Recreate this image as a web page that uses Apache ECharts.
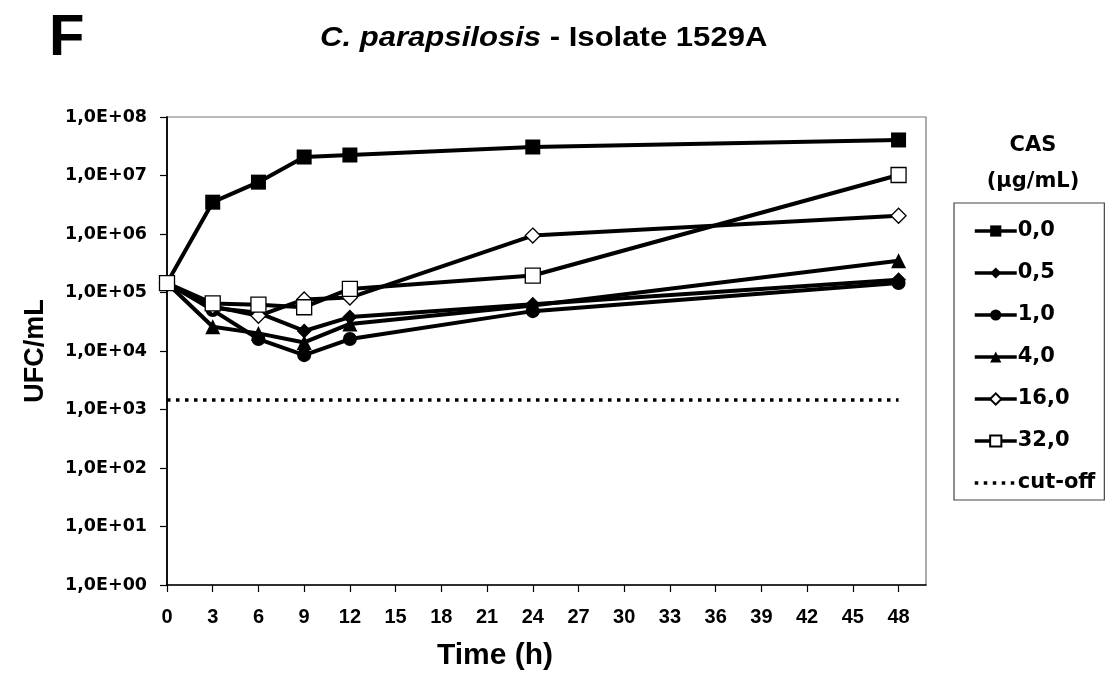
<!DOCTYPE html>
<html>
<head>
<meta charset="utf-8">
<script src="https://cdn.jsdelivr.net/npm/echarts@6/dist/echarts.min.js"></script>
<style>
  html, body { margin: 0; padding: 0; background: #fff; }
  #main { width: 1116px; height: 679px; }
</style>
</head>
<body>
<div id="main"></div>
<script>
// 时间点 (h)
var times = [0, 3, 6, 9, 12, 24, 48];

// UFC/mL 各浓度
var cas00 = [1.45e5, 3.5e6, 7.7e6, 2.07e7, 2.24e7, 3.07e7, 4.05e7];
var cas05 = [1.45e5, 5.5e4, 4.5e4, 2.2e4, 3.8e4, 6.3e4, 1.65e5];
var cas10 = [1.45e5, 5.0e4, 1.6e4, 8.5e3, 1.6e4, 4.8e4, 1.45e5];
var cas40 = [1.45e5, 2.6e4, 2.0e4, 1.4e4, 2.9e4, 6.0e4, 3.5e5];
var cas160 = [1.45e5, 5.8e4, 4.0e4, 7.6e4, 8.2e4, 9.4e5, 2.05e6];
var cas320 = [1.45e5, 6.5e4, 6.2e4, 5.6e4, 1.15e5, 1.95e5, 1.02e7];

// cut-off
var cutTimes = [0, 48];
var cutValue = 1.45e3;

var legendNames = ['0,0', '0,5', '1,0', '4,0', '16,0', '32,0', 'cut-off'];

function pairs(xs, ys) {
    return xs.map(function (x, i) { return [x, ys[i]]; });
}

function mkSeries(name, values, symbol, size, open) {
    return {
        name: name,
        type: 'line',
        data: pairs(times, values),
        symbol: symbol,
        symbolSize: size,
        showAllSymbol: true,
        lineStyle: {color: '#000', width: 4},
        itemStyle: open ? {color: '#fff', borderColor: '#000', borderWidth: 1.3}
                        : {color: '#000', borderColor: '#000', borderWidth: 0},
        emphasis: {disabled: true},
        z: open ? 3 : 2
    };
}

var chart = echarts.init(document.getElementById('main'));

chart.setOption({
    animation: false,
    backgroundColor: '#fff',
    grid: {
        left: 167, right: 190, top: 117, bottom: 94,
        show: true, borderColor: '#777', borderWidth: 1.2
    },
    xAxis: {
        type: 'value',
        min: 0,
        max: 49.8,
        interval: 3,
        axisLine: {show: true, lineStyle: {color: '#000', width: 1.5}},
        axisTick: {show: true, length: 7, lineStyle: {color: '#000', width: 1.2}},
        splitLine: {show: false},
        axisLabel: {
            fontFamily: 'Liberation Sans', fontWeight: 'bold', color: '#000',
            fontSize: 20, margin: 22, showMaxLabel: false
        }
    },
    yAxis: {
        type: 'log',
        logBase: 10,
        min: 1,
        max: 1e8,
        splitNumber: 8,
        axisLine: {show: true, lineStyle: {color: '#000', width: 1.8}},
        axisTick: {show: true, length: 7, lineStyle: {color: '#000', width: 1.2}},
        splitLine: {show: false},
        axisLabel: {
            fontFamily: 'DejaVu Sans', fontWeight: 'bold', color: '#000',
            fontSize: 17.5, margin: 20,
            formatter: function (v) {
                var e = Math.round(Math.log(v) / Math.LN10);
                return '1,0E+' + (e < 10 ? '0' : '') + e;
            }
        }
    },
    legend: {
        data: legendNames,
        orient: 'vertical',
        left: 954,
        top: 203,
        itemWidth: 42,
        itemHeight: 14,
        itemGap: 21,
        padding: [17.5, 9, 6.5, 19],
        borderColor: '#444',
        borderWidth: 1.2,
        selectedMode: false,
        lineStyle: {width: 3.5},
        textStyle: {
            fontFamily: 'DejaVu Sans', fontWeight: 'bold', color: '#000',
            fontSize: 21, padding: [0, 0, 0, -4]
        }
    },
    graphic: [
        {type: 'text', x: 49, y: 39, style: {text: 'F', font: 'bold 58px "Liberation Sans"', fill: '#000', verticalAlign: 'middle'}},
        {type: 'text', x: 320, y: 38.5, scaleX: 1.11, style: {
            rich: {
                i: {font: 'italic bold 28px "Liberation Sans"', fill: '#000'},
                b: {font: 'bold 28px "Liberation Sans"', fill: '#000'}
            },
            text: '{i|C. parapsilosis}{b| - Isolate 1529A}',
            verticalAlign: 'middle'
        }},
        {type: 'text', x: 1033, y: 146, style: {text: 'CAS', font: 'bold 21px "DejaVu Sans"', fill: '#000', align: 'center', verticalAlign: 'middle'}},
        {type: 'text', x: 1033, y: 182, style: {text: '(\u00b5g/mL)', font: 'bold 21px "DejaVu Sans"', fill: '#000', align: 'center', verticalAlign: 'middle'}},
        {type: 'text', x: 36, y: 351, rotation: Math.PI / 2, style: {text: 'UFC/mL', font: 'bold 27px "Liberation Sans"', fill: '#000', align: 'center', verticalAlign: 'middle'}},
        {type: 'text', x: 495, y: 656, style: {text: 'Time (h)', font: 'bold 30px "Liberation Sans"', fill: '#000', align: 'center', verticalAlign: 'middle'}}
    ],
    series: [
        mkSeries('0,0', cas00, 'rect', 15, false),
        mkSeries('0,5', cas05, 'diamond', 15, false),
        mkSeries('1,0', cas10, 'circle', 14, false),
        mkSeries('4,0', cas40, 'triangle', 15, false),
        mkSeries('16,0', cas160, 'diamond', 15, true),
        mkSeries('32,0', cas320, 'rect', 15, true),
        {
            name: 'cut-off',
            type: 'line',
            data: cutTimes.map(function (t) { return [t, cutValue]; }),
            symbol: 'none',
            symbolSize: 0,
            itemStyle: {color: 'rgba(0,0,0,0)'},
            lineStyle: {color: '#000', width: 3.5, type: [3.5, 5.5]},
            emphasis: {disabled: true},
            z: 1
        }
    ]
});
</script>
</body>
</html>
